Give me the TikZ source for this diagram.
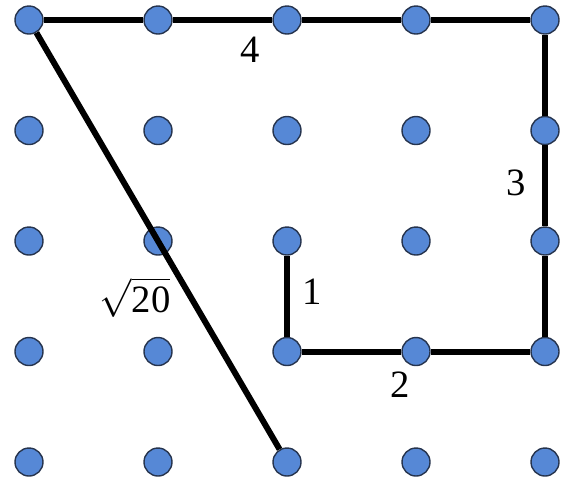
\documentclass[tikz,border=0pt]{standalone}
\usepackage{amsmath}
\usepackage{fontspec}
\setmainfont{Liberation Serif}
\usetikzlibrary{positioning,calc}
\definecolor{dotblue}{RGB}{86,136,214}
\definecolor{dotrim}{RGB}{38,52,78}

\begin{document}
\begin{tikzpicture}[x=1.29cm,y=-1.105cm,font=\fontsize{11}{13}\selectfont,
  dot/.style={circle,fill=dotblue,draw=dotrim,line width=0.4pt,minimum size=0.28cm,inner sep=0pt},
  seg/.style={line width=0.06cm}]
  \useasboundingbox (-0.29cm,0.20cm) rectangle (5.32cm,-4.58cm);
  \foreach \i in {0,...,4}
    \foreach \j in {0,...,4}
      \node[dot] (d-\i-\j) at (\i,\j) {};
  % rectilinear path, dots stay on top
  \draw[seg] (d-0-0) -- (d-1-0);
  \draw[seg] (d-1-0) -- (d-2-0);
  \draw[seg] (d-2-0) -- (d-3-0);
  \draw[seg] (d-3-0) -- (d-4-0);
  \draw[seg] (d-4-0) -- (d-4-1);
  \draw[seg] (d-4-1) -- (d-4-2);
  \draw[seg] (d-4-2) -- (d-4-3);
  \draw[seg] (d-4-3) -- (d-3-3);
  \draw[seg] (d-3-3) -- (d-2-3);
  \draw[seg] (d-2-3) -- (d-2-2);
  % diagonal
  \draw[seg] (d-0-0) -- (d-2-4);
  \node (l4) at (2.21cm,-0.30cm) {4};
  \node (l3) at (4.87cm,-1.63cm) {3};
  \node (l1) at (2.83cm,-2.72cm) {1};
  \node (l2) at (3.71cm,-3.65cm) {2};
  \node (lr) at (1.06cm,-2.77cm) {$\sqrt{\text{20}}$};
\end{tikzpicture}
\end{document}
